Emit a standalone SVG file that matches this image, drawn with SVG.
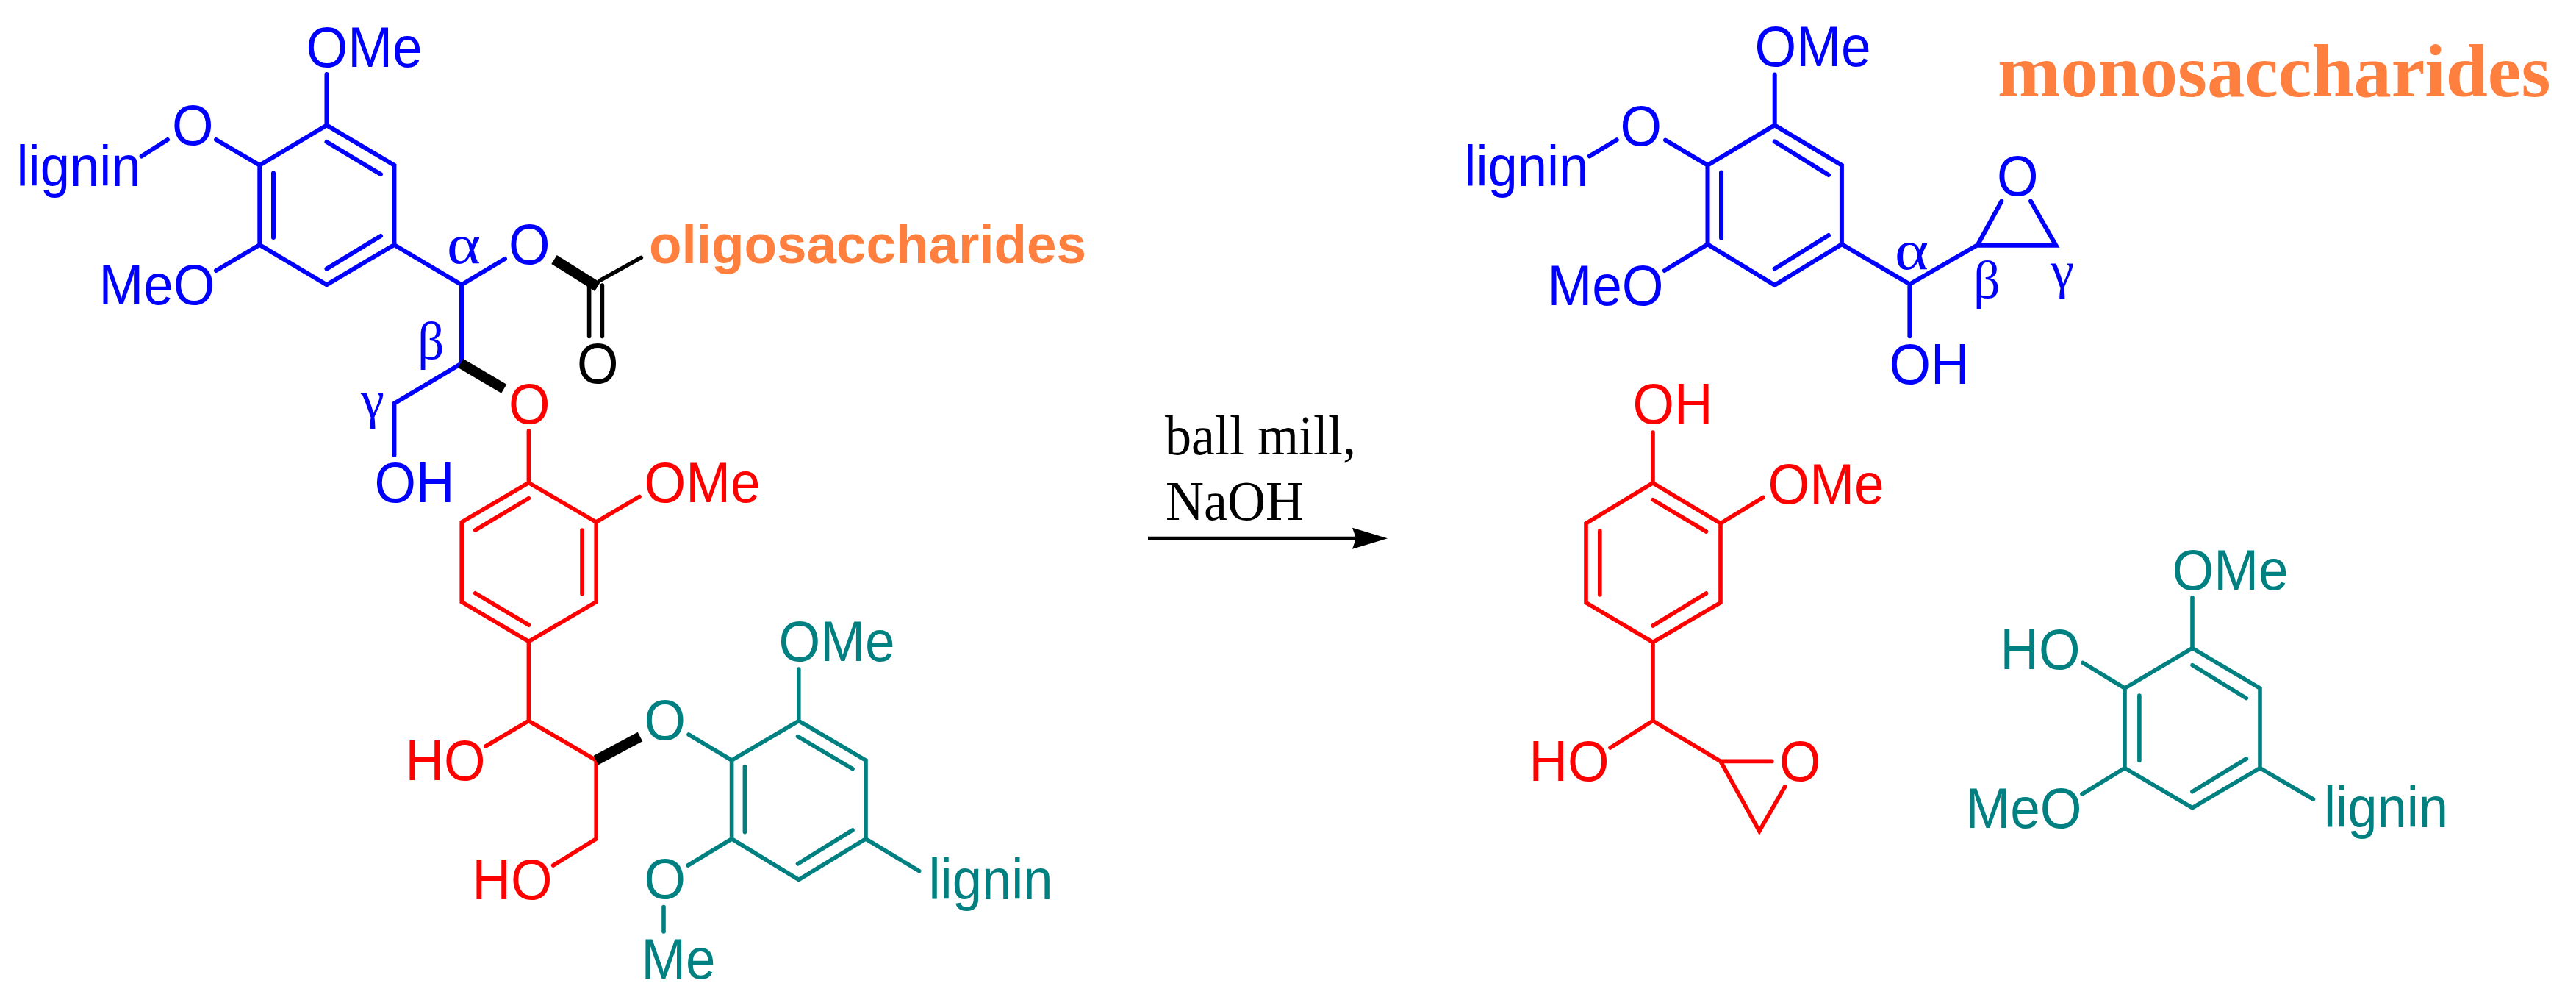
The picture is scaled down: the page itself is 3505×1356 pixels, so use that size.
<svg xmlns="http://www.w3.org/2000/svg" width="3505" height="1356" viewBox="0 0 3505 1356">
<style>
text{font-family:"Liberation Sans",Arial,sans-serif;font-size:77px}
.g{font-family:"Liberation Serif","Times New Roman",serif;font-size:72px}
.a{font-size:76px}
.b{fill:#0000FF}.r{fill:#FF0000}.t{fill:#008080}.k{fill:#000}
.o{fill:#FF7F3F;font-weight:bold;font-size:74px}
.m{font-family:"Liberation Serif","Times New Roman",serif;font-weight:bold;font-size:102.6px}
.s{font-family:"Liberation Serif","Times New Roman",serif;font-size:75.5px;fill:#000}
path{fill:none;stroke-linecap:round;stroke-linejoin:miter;stroke-width:6px}
.lb{stroke:#0000FF}.lr{stroke:#FF0000;stroke-width:5.6px}.lt{stroke:#008080;stroke-width:5.6px}.lk{stroke:#000;stroke-width:5.6px}
.bold{stroke:#000;stroke-width:14px;stroke-linecap:butt}
</style>
<defs><marker id="ah" markerUnits="userSpaceOnUse" markerWidth="50" markerHeight="30" refX="20" refY="15" orient="auto"><path d="M0 0.5L48 15L0 29.5L5 15Z" style="fill:#000;stroke:none"/></marker></defs>

<g id="reactant-guaiacyl-blue">
<path class="lb" d="M444.5 170.4L536.4 224.6V333L444.5 387.3L353.3 333V224.6Z M444.5 193L518 237 M372 235.5V323 M444.5 365.6L518 321 M444.5 170.4V101 M294 190L353.3 224.6 M192.6 212.5L228 190 M294 368L353.3 333 M536.4 333L628 387.3L687 352 M628 387.3V494.4L536.4 548.6V619"/>
<text class="b" x="416.5" y="91" textLength="158" lengthAdjust="spacingAndGlyphs">OMe</text><text class="b" x="22.5" y="252.5" textLength="169" lengthAdjust="spacingAndGlyphs">lignin</text><text class="b" x="234" y="197" textLength="56.5" lengthAdjust="spacingAndGlyphs">O</text><text class="b" x="134.5" y="414" textLength="158" lengthAdjust="spacingAndGlyphs">MeO</text><text class="b" x="692" y="359" textLength="56.5" lengthAdjust="spacingAndGlyphs">O</text><text class="b" x="509.5" y="683" textLength="109" lengthAdjust="spacingAndGlyphs">OH</text>
<text class="g a b" x="608" y="358" textLength="46" lengthAdjust="spacingAndGlyphs">α</text><text class="g b" x="568" y="488">β</text><text class="g b" x="491" y="568">γ</text>
</g>
<g id="ester-linkage">
<path class="lk" d="M801.6 388V457.5 M819.4 388V457.5 M816 381.6L872.3 350.4"/>
<path class="bold" d="M754 353L813 390"/>
<path class="bold" d="M626.7 494L685.7 528.7"/>
<text class="k" x="785" y="521" textLength="56.5" lengthAdjust="spacingAndGlyphs">O</text><text class="o" x="883" y="358" textLength="595" lengthAdjust="spacingAndGlyphs">oligosaccharides</text>
</g>
<g id="reactant-guaiacyl-red">
<path class="lr" d="M719.4 656.6L811.2 710V818.6L719.4 872.5L628.2 818.6V710Z M719.4 677.7L646.7 721 M792 721V807.8 M646.7 806.8L719.4 850 M719.4 586V656.6 M811.2 710L870 675.4 M719.4 872.5V980.5L660.7 1015 M719.4 980.5L811.2 1034V1141L752.6 1177"/>
<path class="bold" d="M811 1034L871 1002"/>
<text class="r" x="692" y="576" textLength="56.5" lengthAdjust="spacingAndGlyphs">O</text><text class="r" x="876.5" y="683" textLength="158" lengthAdjust="spacingAndGlyphs">OMe</text><text class="r" x="551.5" y="1061" textLength="109" lengthAdjust="spacingAndGlyphs">HO</text><text class="r" x="642.5" y="1223" textLength="109" lengthAdjust="spacingAndGlyphs">HO</text>
</g>
<g id="reactant-syringyl-teal">
<path class="lt" d="M1086.8 980.5L1178 1034V1141L1086.8 1196.4L995.6 1141V1034Z M1085.5 1001.6L1160 1045.7 M1013.4 1042.5V1131.6 M1085.5 1174.8L1160 1129 M937 999L995.6 1034 M1086.8 980.5V910 M995.6 1141L936 1177 M903 1233.5V1267 M1178 1141L1250.7 1184.7"/>
<text class="t" x="876.5" y="1006" textLength="56.5" lengthAdjust="spacingAndGlyphs">O</text><text class="t" x="1059.5" y="899" textLength="158" lengthAdjust="spacingAndGlyphs">OMe</text><text class="t" x="876.5" y="1222" textLength="56.5" lengthAdjust="spacingAndGlyphs">O</text><text class="t" x="872.5" y="1331" textLength="101" lengthAdjust="spacingAndGlyphs">Me</text><text class="t" x="1263.5" y="1223" textLength="169" lengthAdjust="spacingAndGlyphs">lignin</text>
</g>

<g id="connectors">
<path d="M1562 732.3H1860" style="stroke:#000;stroke-width:5px;stroke-linecap:butt" marker-end="url(#ah)"/>
</g>
<g id="reaction-conditions">
<text class="s" x="1585" y="618" textLength="260" lengthAdjust="spacingAndGlyphs">ball mill,</text><text class="s" x="1586" y="706.7" textLength="188" lengthAdjust="spacingAndGlyphs">NaOH</text>
</g>

<g id="product-blue">
<path class="lb" d="M2414.7 170.3L2505.9 224.6V332.2L2414.7 387.7L2323.5 332.2V224.6Z M2414.7 192.5L2488 238 M2342 234.6V323.4 M2414.7 365.5L2488 320 M2414.7 170.3V101.4 M2266 190.6L2323.5 224.6 M2162.8 212.4L2199.8 190.2 M2264.8 368L2323.5 332.2 M2505.9 332.2L2598.4 386.5V457.3 M2598.4 386.5L2690.9 333L2723.4 273.6 M2763 273.6L2797.4 333.7H2690.9"/>
<text class="b" x="2387.5" y="90" textLength="158" lengthAdjust="spacingAndGlyphs">OMe</text><text class="b" x="1992.3" y="252.6" textLength="169" lengthAdjust="spacingAndGlyphs">lignin</text><text class="b" x="2204.5" y="198" textLength="56.5" lengthAdjust="spacingAndGlyphs">O</text><text class="b" x="2105.5" y="414.5" textLength="158" lengthAdjust="spacingAndGlyphs">MeO</text><text class="b" x="2570.5" y="522" textLength="109" lengthAdjust="spacingAndGlyphs">OH</text><text class="b" x="2717" y="266" textLength="56.5" lengthAdjust="spacingAndGlyphs">O</text>
<text class="g a b" x="2578" y="365.5" textLength="46" lengthAdjust="spacingAndGlyphs">α</text><text class="g b" x="2685" y="405">β</text><text class="g b" x="2790" y="392">γ</text>
</g>
<g id="product-monosaccharides"><text class="o m" x="2718" y="131">monosaccharides</text></g>
<g id="product-red">
<path class="lr" d="M2249 656.8L2341 711.9V819.7L2249 873.4L2158 819.7V711.9Z M2249 679.7L2321.5 723 M2176.8 722V809 M2249 851L2321.5 807 M2249 656.8V588 M2341 711.9L2399 676.5 M2249 873.4V980.3L2191 1017 M2249 980.3L2341 1035.4H2410.8 M2341 1035.4L2393.8 1130.4L2428.6 1070"/>
<text class="r" x="2221.5" y="576" textLength="109" lengthAdjust="spacingAndGlyphs">OH</text><text class="r" x="2405.5" y="685" textLength="158" lengthAdjust="spacingAndGlyphs">OMe</text><text class="r" x="2080.5" y="1062" textLength="109" lengthAdjust="spacingAndGlyphs">HO</text><text class="r" x="2421" y="1062" textLength="56.5" lengthAdjust="spacingAndGlyphs">O</text>
</g>
<g id="product-teal">
<path class="lt" d="M2983 881.6L3075 936V1044.6L2983 1098.7L2891 1044.6V936Z M2983 904.6L3056.4 949.6 M2910.9 946V1034.5 M2983 1076.7L3056.4 1032 M2983 881.6V812.8 M2834 901.4L2891 936 M2833 1080L2891 1044.6 M3075 1044.6L3147.5 1087"/>
<text class="t" x="2955.5" y="802" textLength="158" lengthAdjust="spacingAndGlyphs">OMe</text><text class="t" x="2721.5" y="910" textLength="109" lengthAdjust="spacingAndGlyphs">HO</text><text class="t" x="2674.5" y="1126" textLength="158" lengthAdjust="spacingAndGlyphs">MeO</text><text class="t" x="3162" y="1125" textLength="169" lengthAdjust="spacingAndGlyphs">lignin</text>
</g>
</svg>
